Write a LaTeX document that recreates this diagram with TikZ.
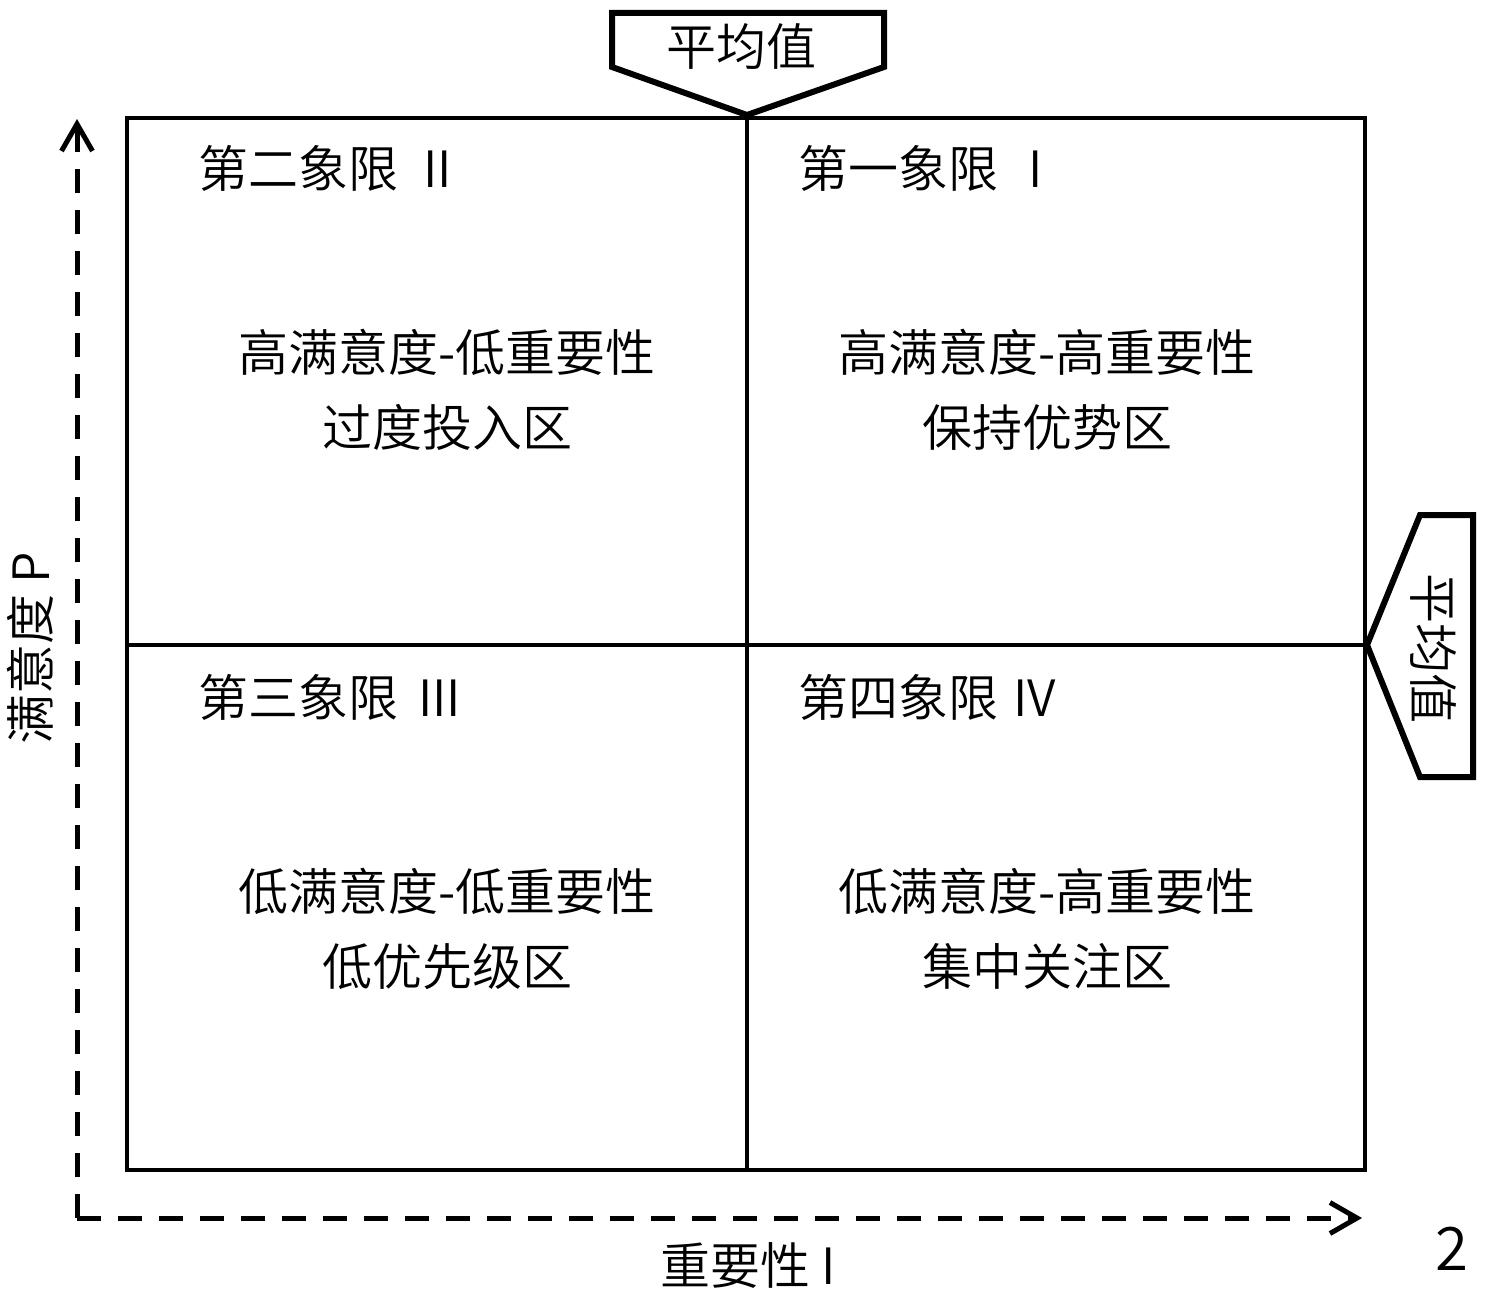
\documentclass[tikz,border=0pt]{standalone}
\usepackage{fontspec}
\setmainfont{Noto Sans CJK SC}[UprightFont=* DemiLight]
\usetikzlibrary{arrows.meta}
\tikzset{
  frame/.style={line width=4.5pt},
  tag/.style={line width=6pt, line join=miter, fill=white},
  axisline/.style={line width=5pt, dash pattern=on 24pt off 17pt,
    arrows={-{Straight Barb[length=27pt,width=31pt,line width=5pt]}}},
  big/.style={font=\fontsize{50}{75}\selectfont, inner sep=0pt},
  quadtitle/.style={big, anchor=west},
  body/.style={big, align=center}
}
\begin{document}
\begin{tikzpicture}[x=1pt,y=-1pt]
\useasboundingbox (0,0) rectangle (1488,1295);
% frame
\coordinate (tl) at (127,118);
\coordinate (br) at (1365,1170);
\coordinate (mt) at (747,118);
\coordinate (mb) at (747,1170);
\coordinate (ml) at (127,645);
\coordinate (mr) at (1365,645);
\draw[frame] (tl) rectangle (br);
\draw[frame] (mt) -- (mb);
\draw[frame] (ml) -- (mr);
% top tag
\draw[tag] (612,13) -- (884,13) -- (884,67) -- (747,115) -- (612,67) -- cycle;
\node[big] (avgtop) at (741,47) {平均值};
% right tag
\draw[tag] (1420,515) -- (1473,515) -- (1473,777) -- (1420,777) -- (1367,645) -- cycle;
\node[big, rotate=-90] (avgright) at (1433,648) {平均值};
% axes
\coordinate (ytip) at (77,119);
\coordinate (origin) at (77,1218);
\coordinate (xtip) at (1362,1218);
\draw[axisline] (origin) -- (ytip);
\draw[axisline] (origin) -- (xtip);
\node[big, rotate=90] (ylab) at (30,648) {满意度 P};
\node[big] (xlab) at (748,1265) {重要性 I};
\node[font=\fontsize{60}{60}\selectfont, inner sep=0pt] (num) at (1452,1249) {2};
% quadrant titles
\node[quadtitle] (q2t) at (198,168) {第二象限\hspace{0.5em}II};
\node[quadtitle] (q1t) at (798,168) {第一象限\hspace{0.6em}I};
\node[quadtitle] (q3t) at (198,697) {第三象限\hspace{0.4em}III};
\node[quadtitle] (q4t) at (798,697) {第四象限\hspace{0.3em}IV};
% bodies
\node[body] (q2b) at (447,389.5) {高满意度-低重要性\\过度投入区};
\node[body] (q1b) at (1047,389.5) {高满意度-高重要性\\保持优势区};
\node[body] (q3b) at (447,928.5) {低满意度-低重要性\\低优先级区};
\node[body] (q4b) at (1047,928.5) {低满意度-高重要性\\集中关注区};
\end{tikzpicture}
\end{document}
